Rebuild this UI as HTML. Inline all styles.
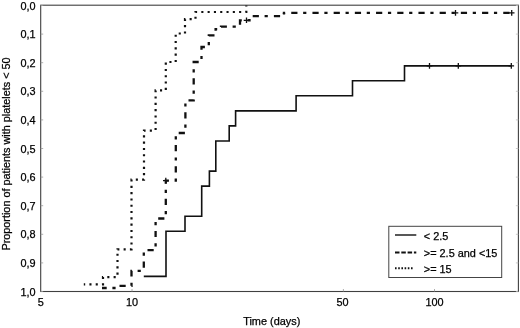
<!DOCTYPE html>
<html><head><meta charset="utf-8"><title>Chart</title>
<style>
html,body{margin:0;padding:0;background:#fff;}
#c{position:relative;width:520px;height:328px;overflow:hidden;background:#fff;font-family:"Liberation Sans",sans-serif;color:#000;font-size:10.9px;}
.t{-webkit-text-stroke:0.25px #000;position:absolute;white-space:nowrap;line-height:12px;}
.yl{right:484.4px;text-align:right;}
.xl{transform:translateX(-50%);top:296.3px;}
</style></head><body><div id="c">
<svg width="520" height="328" viewBox="0 0 520 328" style="position:absolute;left:0;top:0">
<rect x="40.7" y="5.2" width="477.7" height="286.3" fill="none" stroke="#404040" stroke-width="1.1"/>
<line x1="40.7" x2="43.2" y1="5.5" y2="5.5" stroke="#999" stroke-width="0.8"/>
<line x1="515.9" x2="518.4" y1="5.5" y2="5.5" stroke="#bbb" stroke-width="0.8"/>
<line x1="40.7" x2="43.2" y1="34.1" y2="34.1" stroke="#999" stroke-width="0.8"/>
<line x1="515.9" x2="518.4" y1="34.1" y2="34.1" stroke="#bbb" stroke-width="0.8"/>
<line x1="40.7" x2="43.2" y1="62.7" y2="62.7" stroke="#999" stroke-width="0.8"/>
<line x1="515.9" x2="518.4" y1="62.7" y2="62.7" stroke="#bbb" stroke-width="0.8"/>
<line x1="40.7" x2="43.2" y1="91.3" y2="91.3" stroke="#999" stroke-width="0.8"/>
<line x1="515.9" x2="518.4" y1="91.3" y2="91.3" stroke="#bbb" stroke-width="0.8"/>
<line x1="40.7" x2="43.2" y1="119.9" y2="119.9" stroke="#999" stroke-width="0.8"/>
<line x1="515.9" x2="518.4" y1="119.9" y2="119.9" stroke="#bbb" stroke-width="0.8"/>
<line x1="40.7" x2="43.2" y1="148.5" y2="148.5" stroke="#999" stroke-width="0.8"/>
<line x1="515.9" x2="518.4" y1="148.5" y2="148.5" stroke="#bbb" stroke-width="0.8"/>
<line x1="40.7" x2="43.2" y1="177.1" y2="177.1" stroke="#999" stroke-width="0.8"/>
<line x1="515.9" x2="518.4" y1="177.1" y2="177.1" stroke="#bbb" stroke-width="0.8"/>
<line x1="40.7" x2="43.2" y1="205.7" y2="205.7" stroke="#999" stroke-width="0.8"/>
<line x1="515.9" x2="518.4" y1="205.7" y2="205.7" stroke="#bbb" stroke-width="0.8"/>
<line x1="40.7" x2="43.2" y1="234.3" y2="234.3" stroke="#999" stroke-width="0.8"/>
<line x1="515.9" x2="518.4" y1="234.3" y2="234.3" stroke="#bbb" stroke-width="0.8"/>
<line x1="40.7" x2="43.2" y1="262.9" y2="262.9" stroke="#999" stroke-width="0.8"/>
<line x1="515.9" x2="518.4" y1="262.9" y2="262.9" stroke="#bbb" stroke-width="0.8"/>
<line x1="40.7" x2="43.2" y1="291.5" y2="291.5" stroke="#999" stroke-width="0.8"/>
<line x1="515.9" x2="518.4" y1="291.5" y2="291.5" stroke="#bbb" stroke-width="0.8"/>
<line x1="132.0" x2="132.0" y1="289.0" y2="291.5" stroke="#999" stroke-width="0.8"/>
<line x1="343.4" x2="343.4" y1="289.0" y2="291.5" stroke="#999" stroke-width="0.8"/>
<line x1="434.5" x2="434.5" y1="289.0" y2="291.5" stroke="#999" stroke-width="0.8"/>
<path d="M143.8 276.4 H166.0 V231.3 H185.0 V216.2 H201.7 V186.1 H209.4 V171.1 H215.8 V141.0 H229.2 V125.9 H235.6 V110.9 H296.1 V95.8 H352.5 V80.8 H404.5 V65.9 H511.5" fill="none" stroke="#111" stroke-width="1.6"/>
<path d="M83.8 284.4 H103.0 V277.1 H117.5 V249.3 H131.5 V179.6 H144.0 V130.6 H155.6 V90.4 H165.8 V62.0 H175.7 V33.5 H185.0 V19.2 H195.5 V12.0 H246.3 V5.5" fill="none" stroke="#111" stroke-width="2.2" stroke-dasharray="2.1 4.2" stroke-dashoffset="0.7"/>
<path d="M102.0 288.0 H118.5 V285.8 H131.5 V270.8 H143.8 V250.2 H155.6 V218.5 H165.8 V180.6 H175.8 V133.0 H185.4 V100.4 H193.7 V62.0 H201.5 V47.0 H208.8 V35.4 H215.6 V29.2 H221.0 V26.6 H240.0 V20.3 H249.5 V16.2 H284.0 V12.9" fill="none" stroke="#111" stroke-width="2.3" stroke-dasharray="6.2 5.7 3.2 6.1" stroke-dashoffset="1.5"/>
<path d="M282.8 12.9H511.7" fill="none" stroke="#111" stroke-width="2.3" stroke-dasharray="6.2 5.7 3.2 6.1" stroke-dashoffset="12.75"/>
<path d="M426.7 65.9H432.3M429.5 63.1V68.7" stroke="#111" stroke-width="1.3" fill="none"/>
<path d="M455.5 65.9H461.1M458.3 63.1V68.7" stroke="#111" stroke-width="1.3" fill="none"/>
<path d="M508.5 65.9H514.1M511.3 63.1V68.7" stroke="#111" stroke-width="1.3" fill="none"/>
<path d="M452.7 12.9H458.3M455.5 10.1V15.7" stroke="#111" stroke-width="1.3" fill="none"/>
<path d="M508.9 12.9H514.5M511.7 10.1V15.7" stroke="#111" stroke-width="1.3" fill="none"/>
<path d="M163.0 180.6H168.6M165.8 177.8V183.4" stroke="#111" stroke-width="1.3" fill="none"/>
<path d="M243.7 20.3H249.3M246.5 17.5V23.1" stroke="#111" stroke-width="1.3" fill="none"/>
<rect x="388.8" y="226.3" width="112.9" height="51.2" fill="#fff" stroke="#444" stroke-width="1"/>
<line x1="395" x2="416.3" y1="235" y2="235" stroke="#111" stroke-width="1.4"/>
<line x1="395" x2="416.3" y1="252.5" y2="252.5" stroke="#111" stroke-width="2.2" stroke-dasharray="4.5 1.8"/>
<line x1="395" x2="414" y1="268.3" y2="268.3" stroke="#111" stroke-width="2" stroke-dasharray="1.6 1.6"/>
</svg>
<div class="t yl" style="top:-0.4px">0,0</div>
<div class="t yl" style="top:28.2px">0,1</div>
<div class="t yl" style="top:56.8px">0,2</div>
<div class="t yl" style="top:85.4px">0,3</div>
<div class="t yl" style="top:114.0px">0,4</div>
<div class="t yl" style="top:142.6px">0,5</div>
<div class="t yl" style="top:171.2px">0,6</div>
<div class="t yl" style="top:199.8px">0,7</div>
<div class="t yl" style="top:228.4px">0,8</div>
<div class="t yl" style="top:257.0px">0,9</div>
<div class="t yl" style="top:285.6px">1,0</div>
<div class="t xl" style="left:40.9px">5</div>
<div class="t xl" style="left:132.0px">10</div>
<div class="t xl" style="left:342.6px">50</div>
<div class="t xl" style="left:434.5px">100</div>
<div class="t" id="xt" style="left:243.2px;top:314.8px;font-size:10.9px">Time (days)</div>
<div class="t" id="yt" style="left:5.6px;top:154.1px;transform:translate(-50%,-50%) rotate(-90deg);font-size:10.85px">Proportion of patients with platelets &lt; 50</div>
<div class="t lg" style="font-size:10.9px;left:423.8px;top:230px">&lt; 2.5</div>
<div class="t lg" style="font-size:10.9px;left:423.8px;top:247px">&gt;= 2.5 and &lt;15</div>
<div class="t lg" style="font-size:10.9px;left:423.8px;top:263.2px">&gt;= 15</div>
</div></body></html>
